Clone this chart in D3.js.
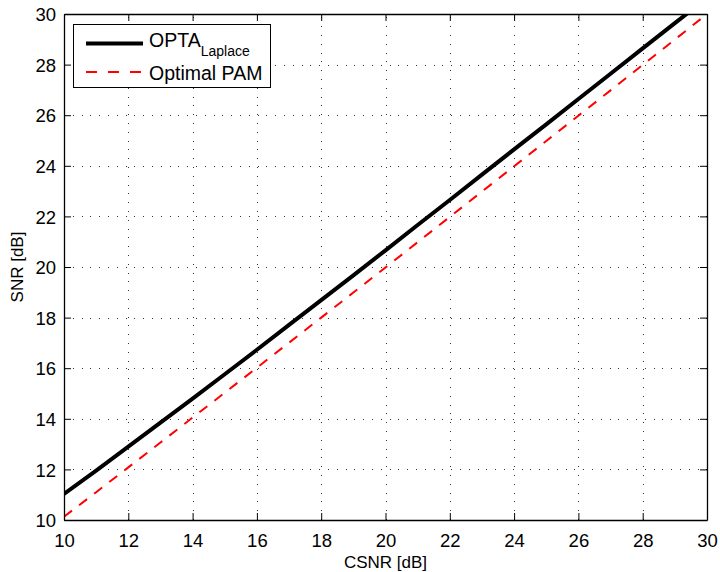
<!DOCTYPE html>
<html>
<head>
<meta charset="utf-8">
<script src="https://cdn.jsdelivr.net/npm/d3@7"></script>
<style>
  html, body { margin: 0; padding: 0; background: #fff; }
  svg { display: block; font-family: "Liberation Sans", Arial, Helvetica, sans-serif; }
</style>
</head>
<body>
<svg id="chart" width="720" height="572"></svg>
<script>
// Channel SNR (dB) sample points
const csnr = [10, 11, 12, 13, 14, 15, 16, 17, 18, 19, 20, 21, 22, 23, 24, 25, 26, 27, 28, 29, 30];
// OPTA bound for a Laplacian source, SNR in dB
const optaLaplace = [11.03, 11.95, 12.90, 13.85, 14.80, 15.76, 16.73, 17.71, 18.69, 19.67, 20.66,
                     21.66, 22.65, 23.65, 24.65, 25.64, 26.64, 27.64, 28.64, 29.64, 30.63];
// Optimal PAM performance, SNR in dB
const optimalPam = [10.13, 11.10, 12.08, 13.06, 14.05, 15.03, 16.02, 17.01, 18.00, 18.99, 19.98,
                    20.98, 21.98, 22.98, 23.98, 24.98, 25.98, 26.98, 27.99, 28.99, 30.00];
const xTicks = [10, 12, 14, 16, 18, 20, 22, 24, 26, 28, 30];
const yTicks = [10, 12, 14, 16, 18, 20, 22, 24, 26, 28, 30];
const seriesNames = ["OPTA", "Optimal PAM"];
const xLabel = "CSNR [dB]";
const yLabel = "SNR [dB]";

const svg = d3.select("#chart");
const m = { left: 64, right: 13, top: 14, bottom: 52 };
const W = 720, H = 572;
const x = d3.scaleLinear().domain([10, 30]).range([m.left, W - m.right]);
const y = d3.scaleLinear().domain([10, 30]).range([H - m.bottom, m.top]);
const x0 = x.range()[0], x1 = x.range()[1], y0 = y.range()[0], y1 = y.range()[1];

svg.append("defs").append("clipPath").attr("id", "plotClip")
  .append("rect").attr("x", x0).attr("y", y1).attr("width", x1 - x0).attr("height", y0 - y1);

// dotted grid
const grid = svg.append("g").attr("stroke", "#333").attr("stroke-width", 1)
  .attr("stroke-dasharray", "1,7.8").attr("shape-rendering", "crispEdges");
grid.selectAll(".gx").data(xTicks.slice(1, -1)).join("line")
  .attr("x1", d => Math.round(x(d)) + 0.5).attr("x2", d => Math.round(x(d)) + 0.5)
  .attr("y1", y0).attr("y2", y1);
grid.selectAll(".gy").data(yTicks.slice(1, -1)).join("line")
  .attr("y1", d => Math.round(y(d)) + 0.5).attr("y2", d => Math.round(y(d)) + 0.5)
  .attr("x1", x0).attr("x2", x1);

// curves
const line = d3.line().x((d, i) => x(csnr[i])).y(d => y(d));
const curves = svg.append("g").attr("clip-path", "url(#plotClip)");
curves.append("path").datum(optimalPam).attr("d", line)
  .attr("fill", "none").attr("stroke", "#ff0000").attr("stroke-width", 2)
  .attr("stroke-dasharray", "10,9");
curves.append("path").datum(optaLaplace).attr("d", line)
  .attr("fill", "none").attr("stroke", "#000").attr("stroke-width", 4);

// axes with inward ticks on all four sides
const tickLen = 7;
const axB = svg.append("g").attr("transform", `translate(0,${y0})`)
  .call(d3.axisBottom(x).tickValues(xTicks).tickSizeInner(-tickLen).tickSizeOuter(0).tickPadding(14));
const axT = svg.append("g").attr("transform", `translate(0,${y1})`)
  .call(d3.axisTop(x).tickValues(xTicks).tickSizeInner(-tickLen).tickSizeOuter(0).tickFormat(""));
const axL = svg.append("g").attr("transform", `translate(${x0},0)`)
  .call(d3.axisLeft(y).tickValues(yTicks).tickSizeInner(-tickLen).tickSizeOuter(0).tickPadding(8));
const axR = svg.append("g").attr("transform", `translate(${x1},0)`)
  .call(d3.axisRight(y).tickValues(yTicks).tickSizeInner(-tickLen).tickSizeOuter(0).tickFormat(""));
[axB, axT, axL, axR].forEach(a => {
  a.select(".domain").attr("stroke", "#000").attr("stroke-width", 1.3);
  a.selectAll(".tick line").attr("stroke", "#000").attr("stroke-width", 1);
  a.selectAll("text").attr("fill", "#000").attr("font-size", 18.5)
    .attr("font-family", "'Liberation Sans', Arial, Helvetica, sans-serif");
});
axL.selectAll("text").attr("dy", "0.36em");

// axis titles
svg.append("text").attr("x", (x0 + x1) / 2).attr("y", 568).attr("text-anchor", "middle")
  .attr("font-size", 17).text(xLabel);
svg.append("text").attr("transform", `translate(23,${(y0 + y1) / 2}) rotate(-90)`)
  .attr("text-anchor", "middle").attr("font-size", 17).text(yLabel);

// legend
const lg = svg.append("g");
lg.append("rect").attr("x", 73.5).attr("y", 24.5).attr("width", 197).attr("height", 63)
  .attr("fill", "#fff").attr("stroke", "#000").attr("stroke-width", 1);
lg.append("line").attr("x1", 86).attr("x2", 143).attr("y1", 43.5).attr("y2", 43.5)
  .attr("stroke", "#000").attr("stroke-width", 4);
lg.append("line").attr("x1", 86).attr("x2", 143).attr("y1", 72).attr("y2", 72)
  .attr("stroke", "#ff0000").attr("stroke-width", 2).attr("stroke-dasharray", "11,11");
const t1 = lg.append("text").attr("x", 149).attr("y", 47).attr("font-size", 19.5);
t1.append("tspan").text(seriesNames[0]);
t1.append("tspan").attr("font-size", 14).attr("dy", 9).text("Laplace");
lg.append("text").attr("x", 149).attr("y", 80).attr("font-size", 19.5).text(seriesNames[1]);
</script>
</body>
</html>
